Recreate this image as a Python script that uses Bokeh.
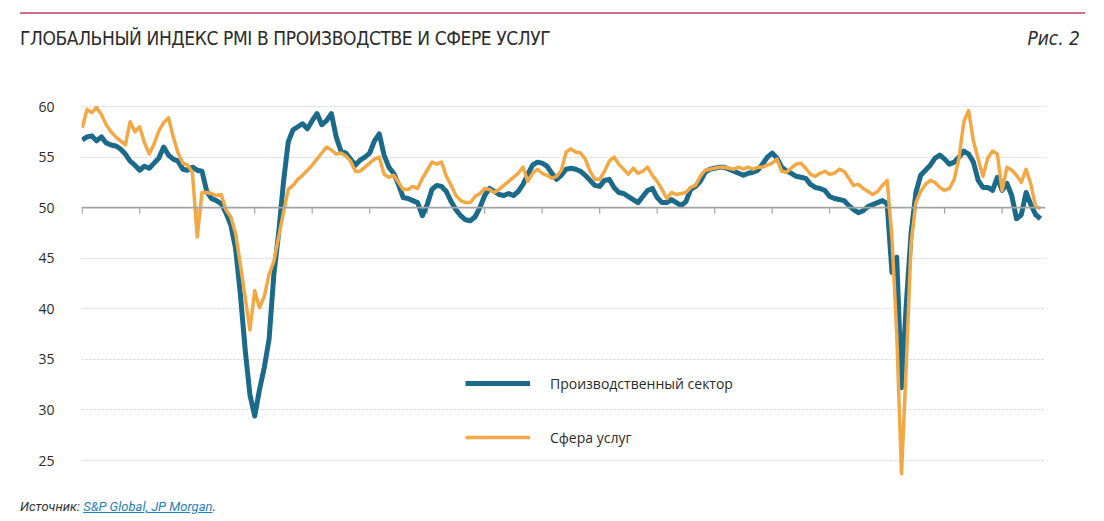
from bokeh.plotting import figure
from bokeh.models import (Range1d, FixedTicker, Span, Legend, LegendItem,
                          ColumnDataSource, Div)
from bokeh.layouts import column
from bokeh.embed import file_html
from bokeh.resources import INLINE

# ---------------- data (monthly, Jan 2006 .. Sep 2022) ----------------
years = list(range(2006, 2023))

manufacturing = [
    56.7, 57.0, 57.1, 56.6, 57.0, 56.4, 56.2, 56.1, 55.8, 55.3, 54.6, 54.2,   # 2006
    53.7, 54.1, 53.9, 54.4, 54.9, 56.0, 55.2, 54.8, 54.6, 53.8, 53.7, 54.0,   # 2007
    53.7, 53.6, 51.6, 50.9, 50.7, 50.4, 49.5, 48.3, 46.0, 41.5, 36.0, 31.5,   # 2008
    29.4, 32.0, 34.2, 37.0, 43.4, 47.5, 52.5, 56.5, 57.7, 58.0, 58.3, 57.8,   # 2009
    58.6, 59.3, 58.2, 58.6, 59.3, 57.0, 55.6, 55.4, 54.8, 54.2, 54.7, 55.0,   # 2010
    55.4, 56.6, 57.3, 55.2, 54.0, 53.4, 52.3, 51.0, 50.9, 50.7, 50.5, 49.2,   # 2011
    50.3, 51.8, 52.2, 52.1, 51.6, 50.6, 49.8, 49.2, 48.8, 48.7, 49.1, 50.0,   # 2012
    51.2, 51.9, 51.6, 51.3, 51.2, 51.4, 51.2, 51.6, 52.3, 53.3, 54.2, 54.5,   # 2013
    54.4, 54.1, 53.4, 52.8, 53.2, 53.8, 53.9, 53.8, 53.6, 53.2, 52.7, 52.2,   # 2014
    52.1, 52.7, 52.8, 52.0, 51.5, 51.4, 51.1, 50.8, 50.5, 51.1, 51.7, 51.9,   # 2015
    51.0, 50.5, 50.5, 50.8, 50.5, 50.2, 50.6, 51.8, 52.1, 52.6, 53.5, 53.8,   # 2016
    53.9, 54.0, 54.0, 53.8, 53.6, 53.4, 53.2, 53.4, 53.5, 53.7, 54.3, 55.0,   # 2017
    55.4, 54.9, 54.0, 53.6, 53.4, 53.1, 53.0, 52.9, 52.3, 52.0, 51.9, 51.7,   # 2018
    51.1, 50.9, 50.8, 50.7, 50.2, 49.8, 49.5, 49.7, 50.1, 50.3, 50.5, 50.7,   # 2019
    50.4, 43.6, 45.1, 32.2, 40.5, 47.5, 51.5, 53.2, 53.7, 54.2, 54.9, 55.2,   # 2020
    54.8, 54.3, 54.5, 55.0, 55.6, 55.3, 54.5, 52.7, 52.0, 52.0, 51.7, 53.0,   # 2021
    51.7, 52.4, 51.2, 48.9, 49.3, 51.5, 50.3, 49.3, 48.9,                     # 2022
]

services = [
    57.9, 59.7, 59.4, 59.9, 59.2, 58.2, 57.5, 57.0, 56.6, 56.2, 58.5, 57.5,   # 2006
    58.0, 56.4, 55.3, 56.3, 57.6, 58.4, 58.9, 57.0, 55.4, 54.4, 54.2, 53.5,   # 2007
    47.1, 51.5, 51.5, 51.4, 51.2, 51.3, 49.8, 49.1, 47.5, 44.4, 41.2, 37.9,   # 2008
    41.8, 40.1, 41.2, 43.4, 44.7, 47.1, 49.5, 51.8, 52.2, 52.8, 53.2, 53.7,   # 2009
    54.2, 54.8, 55.4, 56.0, 55.7, 55.3, 55.4, 55.1, 54.6, 53.6, 53.6, 54.0,   # 2010
    54.4, 54.8, 55.0, 53.3, 53.0, 53.2, 52.5, 51.8, 51.8, 52.1, 51.9, 52.9,   # 2011
    53.7, 54.5, 54.3, 54.5, 53.1, 52.2, 51.2, 50.7, 50.5, 50.5, 51.1, 51.4,   # 2012
    51.9, 51.8, 51.5, 51.8, 52.2, 52.6, 53.0, 53.4, 54.0, 52.6, 53.4, 53.8,   # 2013
    53.4, 53.2, 52.9, 53.1, 53.7, 55.5, 55.8, 55.5, 55.4, 54.8, 53.6, 52.8,   # 2014
    52.8, 53.6, 54.6, 55.0, 54.3, 53.8, 53.3, 53.9, 53.4, 53.6, 54.0, 53.2,   # 2015
    52.6, 51.8, 50.9, 51.5, 51.3, 51.4, 51.5, 52.0, 52.2, 53.1, 53.7, 53.8,   # 2016
    53.9, 54.0, 54.0, 53.9, 53.8, 54.0, 53.8, 54.0, 53.8, 54.0, 54.0, 54.2,   # 2017
    54.4, 54.8, 53.6, 53.5, 53.9, 54.3, 54.4, 53.9, 53.3, 53.1, 53.4, 53.6,   # 2018
    53.3, 53.4, 53.8, 53.6, 52.9, 52.2, 52.3, 51.9, 51.6, 51.3, 51.6, 52.2,   # 2019
    52.7, 47.1, 37.5, 23.7, 34.5, 46.5, 50.5, 51.6, 52.3, 52.7, 52.5, 52.0,   # 2020
    51.7, 51.9, 52.8, 54.9, 58.5, 59.6, 56.6, 54.8, 53.1, 54.9, 55.6, 55.3,   # 2021
    51.7, 54.0, 53.7, 53.2, 52.5, 53.8, 52.3, 50.1, 49.9,                     # 2022
]

y_ticks = [25, 30, 35, 40, 45, 50, 55, 60]
series_names = ["Производственный сектор", "Сфера услуг"]

title_text = "ГЛОБАЛЬНЫЙ ИНДЕКС PMI В ПРОИЗВОДСТВЕ И СФЕРЕ УСЛУГ"
fig_no = "Рис. 2"
source_prefix = "Источник:"
source_link = "S&P Global, JP Morgan"

months = list(range(len(manufacturing)))
year_ticks = [(y - years[0]) * 12 for y in years]

# ---------------- styling ----------------
TEAL = "#1b6a89"
ORANGE = "#f2a845"
AXIS_GREY = "#a3a3a3"
TEXT = "#2b2b2b"
FONT = "Open Sans"
TITLE_FONT = "'Liberation Sans Narrow', 'DejaVu Sans Condensed', 'Roboto', sans-serif"

W = 1104
HEAD_H, FOOT_H = 60, 31
PLOT_H = 521 - HEAD_H - FOOT_H
FL, FR = 81, 1045                    # frame left/right, page px
FT, FB = 96 - HEAD_H, 476 - HEAD_H   # frame top/bottom inside the figure

header = Div(
    text=(
        f'<div style="position:relative;width:{W}px;height:{HEAD_H}px;">'
        f'<div style="position:absolute;left:20px;top:12px;width:1065px;height:2px;'
        f'background:#cf7088;"></div>'
        f'<div style="position:absolute;left:20px;top:26px;font-family:{TITLE_FONT};'
        f'font-size:19px;line-height:24px;letter-spacing:-0.4px;color:{TEXT};'
        f'white-space:nowrap;">{title_text}</div>'
        f'<div style="position:absolute;right:24px;top:26px;font-family:{TITLE_FONT};'
        f'font-size:19px;line-height:24px;font-style:italic;color:{TEXT};'
        f'white-space:nowrap;">{fig_no}</div>'
        f'</div>'
    ),
    width=W, height=HEAD_H, margin=0,
)

footer = Div(
    text=(
        f'<div style="position:relative;width:{W}px;height:{FOOT_H}px;">'
        f'<div style="position:absolute;left:20px;top:8px;font-family:Roboto, sans-serif;'
        f'font-size:13px;line-height:18px;font-style:italic;color:#333333;white-space:nowrap;">'
        f'{source_prefix} <span style="color:#1f7fbf;text-decoration:underline;">'
        f'{source_link}</span>.</div>'
        f'</div>'
    ),
    width=W, height=FOOT_H, margin=0,
)

p = figure(width=W, height=PLOT_H, output_backend="svg", toolbar_location=None,
           x_range=Range1d(-0.15, 201.05), y_range=Range1d(23.42, 60.99),
           x_axis_location=None,
           min_border_left=FL, min_border_right=W - FR,
           min_border_top=FT, min_border_bottom=PLOT_H - FB, margin=0)
p.outline_line_color = None
p.background_fill_color = "white"
p.border_fill_color = "white"

p.yaxis.ticker = FixedTicker(ticks=y_ticks)
p.yaxis.axis_line_color = None
p.yaxis.major_tick_line_color = None
p.yaxis.minor_tick_line_color = None
p.yaxis.major_label_standoff = 21
p.yaxis.major_label_text_font = FONT
p.yaxis.major_label_text_font_size = "14px"
p.yaxis.major_label_text_color = TEXT

p.xgrid.visible = False
p.ygrid.ticker = FixedTicker(ticks=y_ticks)
p.ygrid.grid_line_color = "#cfcfcf"
p.ygrid.grid_line_dash = "2 2"
p.ygrid.grid_line_width = 1

# axis at 50 with year ticks
p.add_layout(Span(location=50, dimension="width", line_color=AXIS_GREY, line_width=1.8))
tick_src = ColumnDataSource(dict(x=year_ticks, y0=[50] * len(year_ticks),
                                 y1=[49.4] * len(year_ticks)))
p.segment(x0="x", y0="y0", x1="x", y1="y1", source=tick_src,
          line_color=AXIS_GREY, line_width=1.2)

r1 = p.line(months, manufacturing, line_color=TEAL, line_width=5, line_join="round")
r2 = p.line(months, services, line_color=ORANGE, line_width=3.5, line_join="round")

legend = Legend(items=[LegendItem(label=series_names[0], renderers=[r1]),
                       LegendItem(label=series_names[1], renderers=[r2])],
                location=(465 - FL, 476 - 447),
                glyph_width=65, glyph_height=20, label_height=20, spacing=34,
                label_standoff=20, padding=0, margin=0,
                border_line_color=None, background_fill_alpha=0,
                label_text_font=FONT, label_text_font_size="14px",
                label_text_color=TEXT)
p.add_layout(legend)

layout = column(header, p, footer, spacing=0, margin=0)

open("out.html", "w").write(file_html(layout, INLINE))
